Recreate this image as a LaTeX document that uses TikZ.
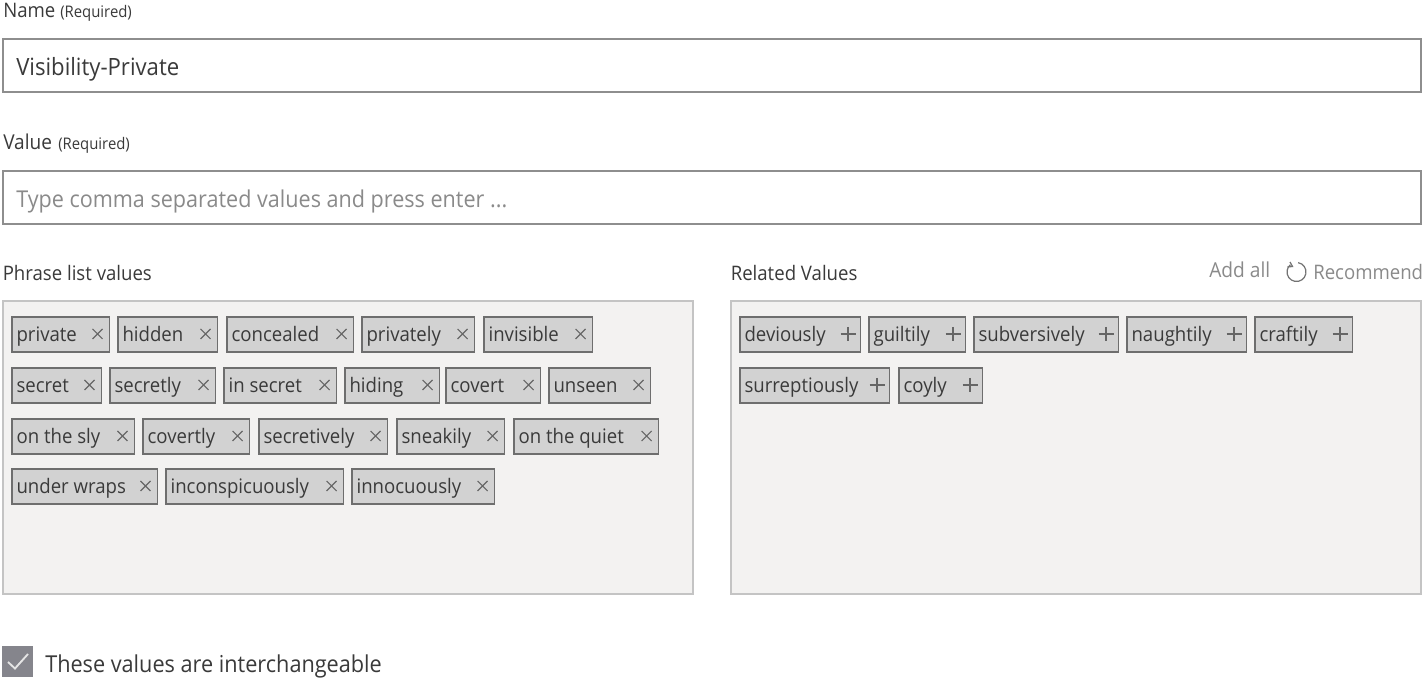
\documentclass[tikz,border=0pt]{standalone}
\usepackage{fontspec}
\setmainfont{Open Sans}[FakeStretch=0.93]
\usetikzlibrary{calc}
\definecolor{inkc}{HTML}{3A3A3A}
\definecolor{lblc}{HTML}{8A8A8A}
\definecolor{tagfill}{HTML}{D2D2D2}
\definecolor{tagedge}{HTML}{6E6E6E}
\definecolor{panelfill}{HTML}{F3F2F1}
\definecolor{paneledge}{HTML}{C4C4C4}
\definecolor{fieldedge}{HTML}{8E8E8E}
\definecolor{checkfill}{HTML}{85858C}
\newcommand{\fpx}[1]{\fontsize{\dimexpr#1pt*3/4\relax}{\dimexpr#1pt*9/10\relax}\selectfont}
\tikzset{
  x=0.75pt,y=-0.75pt,
  txt/.style={inner sep=0pt,anchor=base west,text=inkc,font=\fpx{21}},
  small/.style={inner sep=0pt,anchor=base west,text=inkc,font=\fpx{16}},
  grey/.style={inner sep=0pt,anchor=base west,text=lblc,font=\fpx{20}},
  tagtxt/.style={inner sep=0pt,anchor=base west,text=inkc,font=\fpx{20}},
  field/.style={draw=fieldedge,line width=1.5pt,fill=white},
  panel/.style={draw=paneledge,line width=1.3pt,fill=panelfill},
  tagbox/.style={rectangle,draw=tagedge,line width=1.4pt,fill=tagfill,inner sep=0pt,anchor=north west,minimum height=26.5pt},
  glyph/.style={draw=black!60,line width=0.8pt},
}
% #1 name, #2 x0, #3 x1, #4 y-top, #5 text
\newcommand{\tagx}[5]{%
  \node[tagbox,minimum width={0.75*(#3-#2-1.5)}] (#1) at (#2,#4) {};
  \node[tagtxt] (#1t) at (#2+5.3,#4+26) {#5};
  \draw[glyph] (#3-17.5,#4+13) -- +(10,10) (#3-17.5,#4+23) -- +(10,-10);
}
\newcommand{\tagp}[5]{%
  \node[tagbox,minimum width={0.75*(#3-#2-1.5)}] (#1) at (#2,#4) {};
  \node[tagtxt] (#1t) at (#2+5.3,#4+26) {#5};
  \draw[glyph] (#3-20.5,#4+18) -- +(15,0) (#3-13,#4+11) -- +(0,14);
}
\begin{document}
\begin{tikzpicture}
\useasboundingbox (0,0) rectangle (1425,680);
\fill[white] (0,0) rectangle (1425,680);
% labels and fields
\node[txt,font=\fpx{20}] (namel) at (3,17.5) {Name};
\node[small] (nameq) at (60,17.5) {(Required)};
\draw[field] (3,39) rectangle (1421,92);
\node[txt,font=\fpx{23.8}] (namev) at (16,76) {Visibility-Private};
\node[txt,font=\fpx{20.5}] (valuel) at (3,149.5) {Value};
\node[small] (valueq) at (58,149.5) {(Required)};
\draw[field] (3,171) rectangle (1421,224);
\node[grey,font=\fpx{23.2}] (valueh) at (16,208) {Type comma separated values and press enter ...};
% panel headings
\node[txt,font=\fpx{20}] (phl) at (2.5,281) {Phrase list values};
\node[txt,font=\fpx{20}] (rel) at (730.5,281) {Related Values};
\node[grey,font=\fpx{20.6}] (addall) at (1209,278) {Add all};
\node[grey] (recom) at (1313,280) {Recommend};
\draw[black!55,line width=0.9pt] (1298.15,262.64) arc (280:590:9.5);
\draw[black!55,line width=0.9pt] (1290,262) -- (1292.5,266.5) -- (1287.5,267);
% panels
\draw[panel] (3,301) rectangle (693,594);
\draw[panel] (731,301) rectangle (1421,594);
% left tags
\tagx{a1}{11}{110}{316}{private}
\tagx{a2}{117}{218}{316}{hidden}
\tagx{a3}{226}{354}{316}{concealed}
\tagx{a4}{361}{475}{316}{privately}
\tagx{a5}{483}{593}{316}{invisible}
\tagx{b1}{11}{102}{367}{secret}
\tagx{b2}{109}{216}{367}{secretly}
\tagx{b3}{223}{337}{367}{in secret}
\tagx{b4}{344}{440}{367}{hiding}
\tagx{b5}{445}{541}{367}{covert}
\tagx{b6}{548}{651}{367}{unseen}
\tagx{c1}{11}{135}{418}{on the sly}
\tagx{c2}{142}{250}{418}{covertly}
\tagx{c3}{258}{388}{418}{secretively}
\tagx{c4}{396}{505}{418}{sneakily}
\tagx{c5}{513}{659}{418}{on the quiet}
\tagx{d1}{11}{158}{468}{under wraps}
\tagx{d2}{165}{344}{468}{inconspicuously}
\tagx{d3}{351}{495}{468}{innocuously}
% right tags
\tagp{e1}{739}{861}{316}{deviously}
\tagp{e2}{868}{966}{316}{guiltily}
\tagp{e3}{973}{1119}{316}{subversively}
\tagp{e4}{1126}{1247}{316}{naughtily}
\tagp{e5}{1254}{1353}{316}{craftily}
\tagp{f1}{739}{890}{367}{surreptiously}
\tagp{f2}{898}{983}{367}{coyly}
% checkbox
\fill[checkfill] (2,646) rectangle (33,677);
\draw[white!90!black,line width=1.4pt] (8,662) -- (15,668.5) -- (28,654);
\node[txt,font=\fpx{23.3}] (chk) at (45,672) {These values are interchangeable};
\end{tikzpicture}
\end{document}
